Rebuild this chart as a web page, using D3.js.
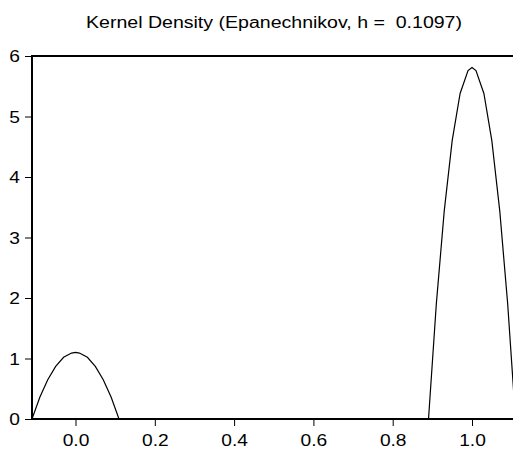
<!DOCTYPE html>
<html>
<head>
<meta charset="utf-8">
<script src="https://cdn.jsdelivr.net/npm/d3@7"></script>
<style>
html,body{margin:0;padding:0;background:#fff;}
svg{display:block;}
text{font-family:"Liberation Sans",Arial,sans-serif;fill:#000;}
</style>
</head>
<body>
<svg id="chart" width="513" height="453"></svg>
<script>
// Data (x grid, estimated density)
const xValues = [-0.1097,-0.09,-0.07,-0.05,-0.03,-0.01,0.00,0.01,0.03,0.05,0.07,0.09,0.1097,
                 0.8903,0.91,0.93,0.95,0.97,0.99,1.00,1.01,1.03,1.05,1.07,1.09,1.1097];
const densityValues = [0,0.36,0.65,0.87,1.02,1.09,1.10,1.09,1.02,0.87,0.65,0.36,0,
                       0,1.90,3.44,4.60,5.38,5.76,5.81,5.76,5.38,4.60,3.44,1.90,0];
const xTicks = [0.0,0.2,0.4,0.6,0.8,1.0];
const yTicks = [0,1,2,3,4,5,6];
const xDomain = [-0.1097,1.1097];
const yDomain = [0,6];
const titleText = "Kernel Density (Epanechnikov, h =  0.1097)";

const stretch = 1.2;
const svg = d3.select("#chart");
const x = d3.scaleLinear().domain(xDomain).range([32, 515.5]);
const y = d3.scaleLinear().domain(yDomain).range([419, 56]);

svg.append("text").attr("x", 274).attr("y", 28).attr("text-anchor","middle")
  .attr("xml:space","preserve").style("white-space","pre")
  .attr("textLength", 376).attr("lengthAdjust","spacingAndGlyphs")
  .style("font-size","16px").text(titleText);

svg.append("defs").append("clipPath").attr("id","clip")
  .append("rect").attr("x",32).attr("y",56).attr("width",515.5-32).attr("height",419-56);

const pts = xValues.map((v,i)=>[v,densityValues[i]]);
const line = d3.line().x(d=>x(d[0])).y(d=>y(d[1]));
svg.append("path").datum(pts).attr("clip-path","url(#clip)")
  .attr("d", line).attr("fill","none").attr("stroke","#000").attr("stroke-width",1.2);

// frame
svg.append("rect").attr("x",32).attr("y",56).attr("width",515.5-32).attr("height",419-56)
  .attr("fill","none").attr("stroke","#000").attr("stroke-width",2);

const yAxis = d3.axisLeft(y).tickValues(yTicks).tickFormat(d3.format("d")).tickSize(7).tickPadding(5);
const gy = svg.append("g").attr("transform","translate(32,0)").call(yAxis);
gy.select(".domain").remove();
gy.selectAll("text").style("font-size","16px").attr("dy","0.36em")
  .attr("x", -12/stretch).attr("transform", `scale(${stretch},1)`);
gy.selectAll("line").attr("stroke","#000").attr("stroke-width",1);

const xAxis = d3.axisBottom(x).tickValues(xTicks).tickFormat(d3.format(".1f")).tickSize(7).tickPadding(9);
const gx = svg.append("g").attr("transform","translate(0,419)").call(xAxis);
gx.select(".domain").remove();
gx.selectAll("text").style("font-size","16px").attr("transform", `scale(${stretch},1)`);
gx.selectAll("line").attr("stroke","#000").attr("stroke-width",1);
</script>
</body>
</html>
